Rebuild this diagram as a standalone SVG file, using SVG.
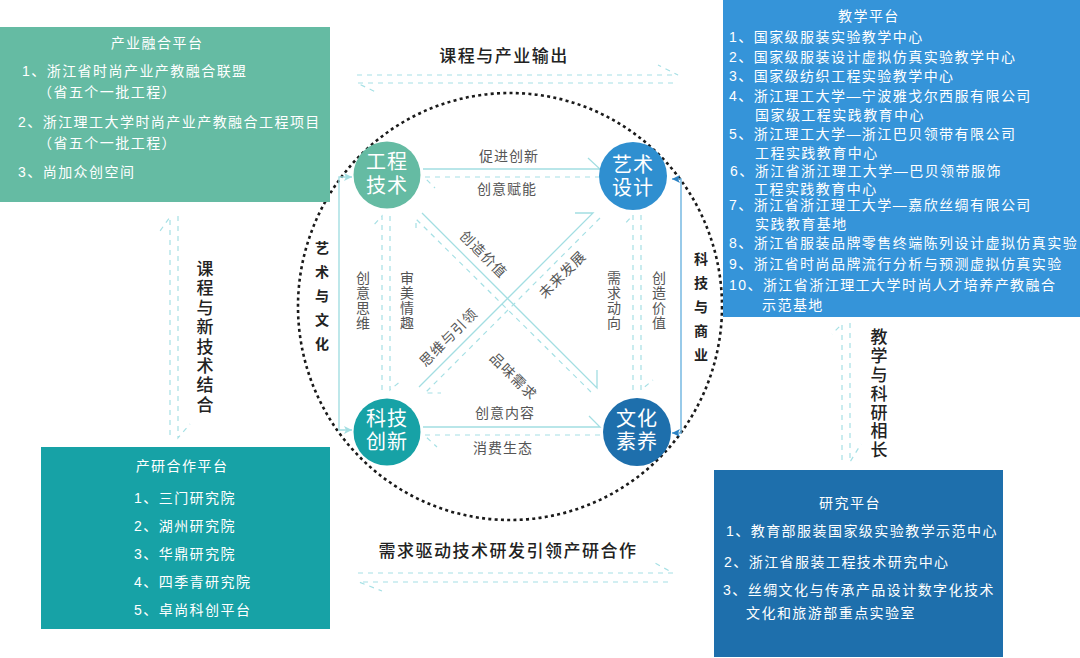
<svg xmlns="http://www.w3.org/2000/svg" width="1080" height="658" viewBox="0 0 1080 658">
<style>
text{font-family:"Liberation Sans","Noto Sans CJK SC",sans-serif}
.w{fill:#fff;font-size:14px;letter-spacing:1.45px}
.wm{text-anchor:middle}
.n{fill:#fff;font-size:20px;text-anchor:middle;letter-spacing:1px}
.g{fill:#555;font-size:14px;text-anchor:middle;letter-spacing:1px}
.vg{fill:#555;font-size:14px;writing-mode:vertical-rl;letter-spacing:1px}
.b{fill:#222;font-size:17px;font-weight:500;text-anchor:middle;letter-spacing:1.5px}
.vb{fill:#222;font-size:17px;font-weight:500;writing-mode:vertical-rl;letter-spacing:1.9px}
.vs{fill:#222;font-size:14px;font-weight:700;writing-mode:vertical-rl;letter-spacing:10px}
.s{fill:none;stroke:#a3dee2;stroke-width:1.3}
.d{fill:none;stroke:#a6e0e5;stroke-width:1.2;stroke-dasharray:5 5}
.o{fill:none;stroke:#a3dee2;stroke-width:1.4}
</style>
<defs>
<marker id="ah1" markerUnits="userSpaceOnUse" markerWidth="9" markerHeight="9" refX="8" refY="4.5" orient="auto-start-reverse"><path d="M0 0.5L8 4.5L0 8.5L2 4.5z" fill="#a3dee2"/></marker>
<marker id="ah2" markerUnits="userSpaceOnUse" markerWidth="9" markerHeight="9" refX="8" refY="4.5" orient="auto-start-reverse"><path d="M0 0.5L8 4.5L0 8.5L2 4.5z" fill="#2b82c4"/></marker>
</defs>

<g id="ring"><ellipse cx="510" cy="306.5" rx="212" ry="213.5" fill="none" stroke="#1a1a1a" stroke-width="2.6" stroke-dasharray="3 3.3"/></g>

<g id="connectors">
<path class="s" d="M423 169H600L588 158"/>
<path class="d" d="M600 177H424L435 188"/>
<path class="s" d="M423 427H600L589 416"/>
<path class="d" d="M600 435H424L437 447"/>
<path class="d" d="M382 390V216L372 227"/>
<path class="d" d="M390 216V390L402 380"/>
<path class="d" d="M633 390V215L623 226"/>
<path class="d" d="M641 215V390L653 380"/>
<path class="s" d="M422 213L597 388V370"/>
<path class="d" d="M416 228V219L592 393"/>
<path class="s" d="M419 387L593 213H575"/>
<path class="d" d="M600 218L425 393H441"/>
<path class="o" d="M352 177H339V430H352" marker-start="url(#ah1)" marker-end="url(#ah1)"/>
<path d="M672 179H681V433H672" fill="none" stroke="#6db4e0" stroke-width="1.4" marker-start="url(#ah2)" marker-end="url(#ah2)"/>
<path class="d" d="M357 75H678L658 65"/>
<path class="d" d="M673 83H357L378 93"/>
<path class="d" d="M358 573H673L655 563"/>
<path class="d" d="M668 582H359L382 591"/>
<path class="d" d="M170 435V217L160 231"/>
<path class="d" d="M178 216V438L190 424"/>
<path class="d" d="M842 460V324L832 334"/>
<path class="d" d="M850 323V462L861 444"/>
</g>

<g id="panel-industry">
<rect x="0" y="27" width="330" height="175" fill="#65bba3"/>
<text class="w wm" x="157" y="48">产业融合平台</text>
<text class="w" x="22" y="76">1、浙江省时尚产业产教融合联盟</text>
<text class="w" x="38" y="97">（省五个一批工程）</text>
<text class="w" x="18" y="127">2、浙江理工大学时尚产业产教融合工程项目</text>
<text class="w" x="38" y="148">（省五个一批工程）</text>
<text class="w" x="18" y="177">3、尚加众创空间</text>
</g>

<g id="panel-research-coop">
<rect x="41" y="447" width="289" height="182" fill="#17a2a6"/>
<text class="w wm" x="182" y="471">产研合作平台</text>
<text class="w" x="134" y="503">1、三门研究院</text>
<text class="w" x="134" y="531">2、湖州研究院</text>
<text class="w" x="134" y="559">3、华鼎研究院</text>
<text class="w" x="134" y="587">4、四季青研究院</text>
<text class="w" x="134" y="615">5、卓尚科创平台</text>
</g>

<g id="panel-teaching">
<rect x="723" y="0" width="357" height="317" fill="#3594d9"/>
<text class="w">
<tspan x="838" y="21">教学平台</tspan>
<tspan x="729" y="42">1、国家级服装实验教学中心</tspan>
<tspan x="729" y="62">2、国家级服装设计虚拟仿真实验教学中心</tspan>
<tspan x="729" y="81">3、国家级纺织工程实验教学中心</tspan>
<tspan x="729" y="101">4、浙江理工大学—宁波雅戈尔西服有限公司</tspan>
<tspan x="755" y="120">国家级工程实践教育中心</tspan>
<tspan x="729" y="139">5、浙江理工大学—浙江巴贝领带有限公司</tspan>
<tspan x="755" y="158">工程实践教育中心</tspan>
<tspan x="730" y="176">6、浙江省浙江理工大学—巴贝领带服饰</tspan>
<tspan x="754" y="194">工程实践教育中心</tspan>
<tspan x="729" y="210">7、浙江省浙江理工大学—嘉欣丝绸有限公司</tspan>
<tspan x="755" y="229">实践教育基地</tspan>
<tspan x="729" y="248">8、浙江省服装品牌零售终端陈列设计虚拟仿真实验</tspan>
<tspan x="729" y="269">9、浙江省时尚品牌流行分析与预测虚拟仿真实验</tspan>
<tspan x="729" y="290">10、浙江省浙江理工大学时尚人才培养产教融合</tspan>
<tspan x="762" y="310">示范基地</tspan>
</text>
</g>

<g id="panel-research">
<rect x="714" y="470" width="289" height="187" fill="#1e6fac"/>
<text class="w wm" x="850" y="508">研究平台</text>
<text class="w" x="726" y="536">1、教育部服装国家级实验教学示范中心</text>
<text class="w" x="724" y="567">2、浙江省服装工程技术研究中心</text>
<text class="w" x="723" y="595">3、丝绸文化与传承产品设计数字化技术</text>
<text class="w" x="746" y="618">文化和旅游部重点实验室</text>
</g>

<g id="node-eng"><circle cx="387" cy="175" r="33.5" fill="#65bba3"/><text class="n"><tspan x="387" y="169">工程</tspan><tspan x="387" y="193">技术</tspan></text></g>
<g id="node-art"><circle cx="633" cy="176" r="34" fill="#2f8fd0"/><text class="n"><tspan x="633" y="172">艺术</tspan><tspan x="633" y="195">设计</tspan></text></g>
<g id="node-tech"><circle cx="387" cy="432" r="33.5" fill="#17a2a6"/><text class="n"><tspan x="387" y="426">科技</tspan><tspan x="387" y="449">创新</tspan></text></g>
<g id="node-culture"><circle cx="637" cy="432" r="34" fill="#1e6fac"/><text class="n"><tspan x="637" y="426">文化</tspan><tspan x="637" y="449">素养</tspan></text></g>

<g id="labels">
<text class="g" x="509" y="161">促进创新</text>
<text class="g" x="507" y="194">创意赋能</text>
<text class="g" x="505" y="418">创意内容</text>
<text class="g" x="503" y="453">消费生态</text>
<text class="vg" x="362" y="271">创意思维</text>
<text class="vg" x="406" y="271">审美情趣</text>
<text class="vg" x="613" y="271">需求动向</text>
<text class="vg" x="658" y="271">创造价值</text>
<text class="g" transform="translate(480 258) rotate(45)">创造价值</text>
<text class="g" transform="translate(566 278) rotate(-45)">未来发展</text>
<text class="g" transform="translate(452 341) rotate(-45)">思维与引领</text>
<text class="g" transform="translate(510 380) rotate(45)">品味需求</text>
<text class="vs" x="321" y="241">艺术与文化</text>
<text class="vs" x="700" y="252">科技与商业</text>
<text class="b" x="504" y="62">课程与产业输出</text>
<text class="b" x="508" y="557">需求驱动技术研发引领产研合作</text>
<text class="vb" style="letter-spacing:2.4px" x="203" y="260">课程与新技术结合</text>
<text class="vb" x="877" y="328">教学与科研相长</text>
</g>
</svg>
